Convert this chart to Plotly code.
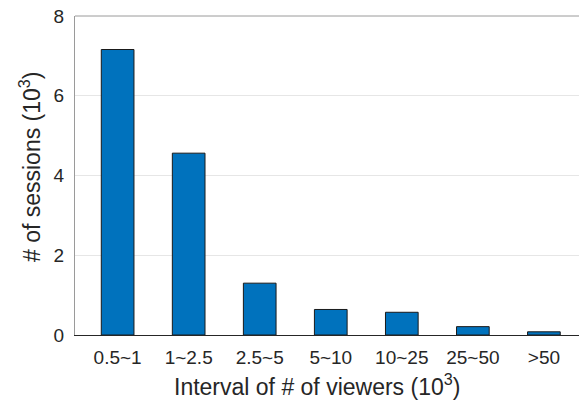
import plotly.graph_objects as go

# Session counts grouped by viewer-count interval
intervals = ["0.5~1", "1~2.5", "2.5~5", "5~10", "10~25", "25~50", ">50"]
sessions_k = [7.16, 4.56, 1.30, 0.64, 0.57, 0.21, 0.08]
y_ticks = [0, 2, 4, 6, 8]

positions = list(range(1, len(intervals) + 1))

fig = go.Figure(
    go.Bar(
        x=positions,
        y=sessions_k,
        width=0.46,
        marker=dict(color="#0072BD", line=dict(color="#1a1a1a", width=1)),
    )
)

font_family = "Liberation Sans, Arial, sans-serif"
title_font = dict(family=font_family, size=23, color="#262626")

fig.update_layout(
    width=579,
    height=401,
    margin=dict(l=75, r=0, t=16, b=66),
    plot_bgcolor="white",
    paper_bgcolor="white",
    showlegend=False,
    font=dict(family=font_family, size=19, color="#262626"),
    xaxis=dict(
        range=[0.4, 7.494],
        tickmode="array",
        tickvals=positions,
        ticktext=intervals,
        showgrid=False,
        zeroline=False,
        showline=True,
        linecolor="#262626",
        linewidth=1,
        ticks="",
        ticklabelstandoff=5,
    ),
    yaxis=dict(
        range=[0, 8],
        tickvals=y_ticks,
        showgrid=True,
        gridcolor="#e6e6e6",
        gridwidth=1,
        zeroline=False,
        showline=True,
        linecolor="#9a9a9a",
        linewidth=1,
        ticks="",
        ticklabelstandoff=6,
    ),
    shapes=[
        dict(type="line", xref="paper", yref="paper", x0=0, x1=1, y0=1, y1=1,
             line=dict(color="#9a9a9a", width=1)),
    ],
    annotations=[
        dict(text="Interval of # of viewers (10<sup>3</sup>)", xref="paper", yref="paper",
             x=0.481, y=-0.157, xanchor="center", yanchor="middle",
             showarrow=False, font=title_font),
        dict(text="# of sessions (10<sup>3</sup>)", xref="paper", yref="paper",
             x=-0.089, y=0.527, xanchor="center", yanchor="middle", textangle=-90,
             showarrow=False, font=title_font),
    ],
)

fig.write_html("out.html")
